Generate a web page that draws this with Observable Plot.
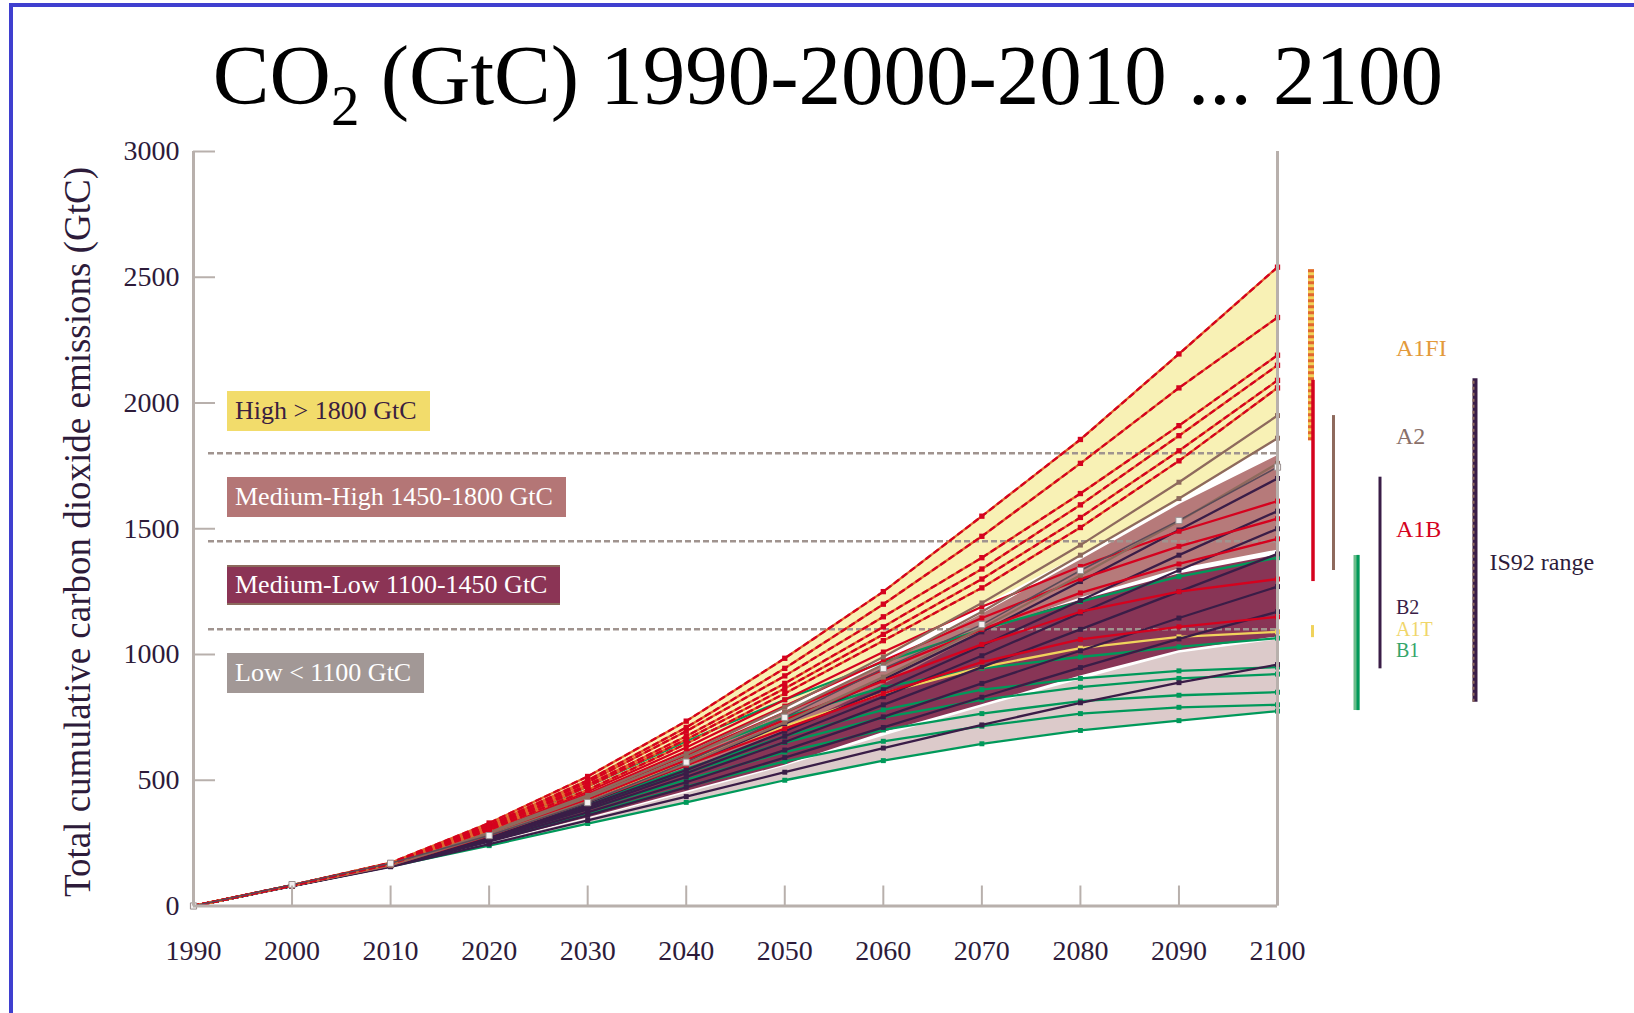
<!DOCTYPE html>
<html><head><meta charset="utf-8">
<script src="https://cdn.jsdelivr.net/npm/d3@7"></script>
<script src="https://cdn.jsdelivr.net/npm/@observablehq/plot@0.6"></script>
<style>
html,body{margin:0;padding:0;background:#fff;}
#page{position:relative;width:1634px;height:1013px;overflow:hidden;font-family:"Liberation Serif","Times New Roman",serif;background:#fff;}
#blueTop{position:absolute;left:9px;top:3px;width:1625px;height:4px;background:#3f3fcf;}
#blueLeft{position:absolute;left:9px;top:3px;width:4px;height:1010px;background:#3f3fcf;}
#title{position:absolute;left:0;top:33px;width:1656px;text-align:center;font-size:85px;line-height:85px;color:#000;white-space:nowrap;}
#title .sub{font-size:57px;vertical-align:-21px;}
#chart{position:absolute;left:0;top:135px;}
#ytitle{position:absolute;left:-322px;top:512px;width:800px;height:40px;line-height:40px;text-align:center;font-size:37px;color:#2d1b3a;transform:rotate(-90deg);transform-origin:400px 20px;white-space:nowrap;}
.legbox{position:absolute;height:40px;line-height:40px;font-size:26px;padding:0 13px 0 8px;white-space:nowrap;box-sizing:border-box;}
</style></head>
<body>
<div id="page">
  <div id="blueTop"></div><div id="blueLeft"></div>
  <div id="title">CO<span class="sub">2</span> (GtC) 1990-2000-2010 ... 2100</div>
  <div id="chart"></div>
  <div id="ytitle">Total cumulative carbon dioxide emissions (GtC)</div>
</div>
<script>
// ---------- data ----------
const years = [1990, 2000, 2010, 2020, 2030, 2040, 2050, 2060, 2070, 2080, 2090, 2100];
const yTicks = [0, 500, 1000, 1500, 2000, 2500, 3000];
const thresholds = [1100, 1450, 1800];

// scenario runs, cumulative GtC at each decade
const a1fiRuns = [
  [0, 83, 172, 330, 515, 735, 985, 1250, 1550, 1855, 2195, 2540],
  [0, 83, 170, 322, 500, 710, 945, 1200, 1470, 1760, 2060, 2340],
  [0, 83, 170, 318, 492, 695, 915, 1150, 1385, 1640, 1910, 2190],
  [0, 82, 168, 312, 482, 675, 885, 1110, 1340, 1595, 1870, 2150],
  [0, 82, 168, 308, 475, 662, 865, 1080, 1300, 1545, 1810, 2090],
  [0, 82, 166, 302, 462, 645, 845, 1055, 1265, 1505, 1770, 2060]
];
const a2Runs = [
  [0, 81, 164, 295, 440, 605, 790, 990, 1205, 1435, 1685, 1950],
  [0, 81, 163, 290, 432, 590, 770, 960, 1170, 1395, 1620, 1860],
  [0, 80, 162, 282, 415, 565, 730, 910, 1105, 1315, 1530, 1760]
];
const a1bRuns = [
  [0, 82, 166, 300, 455, 630, 820, 1010, 1190, 1350, 1490, 1610],
  [0, 82, 165, 296, 446, 615, 795, 975, 1145, 1300, 1430, 1540],
  [0, 81, 164, 292, 438, 600, 770, 940, 1100, 1245, 1360, 1460],
  [0, 81, 163, 285, 425, 580, 740, 895, 1040, 1170, 1250, 1300],
  [0, 81, 162, 280, 415, 560, 705, 845, 970, 1060, 1110, 1150]
];
const b2Runs = [
  [0, 80, 162, 280, 410, 560, 725, 900, 1090, 1290, 1495, 1700],
  [0, 80, 161, 276, 400, 540, 695, 860, 1035, 1215, 1395, 1570],
  [0, 80, 160, 272, 392, 528, 675, 832, 995, 1165, 1335, 1500],
  [0, 80, 160, 268, 384, 513, 652, 800, 950, 1100, 1250, 1400],
  [0, 80, 159, 262, 372, 492, 620, 752, 885, 1015, 1145, 1270],
  [0, 79, 158, 256, 360, 472, 590, 710, 830, 948, 1062, 1170],
  [0, 79, 156, 246, 340, 435, 532, 628, 720, 808, 888, 960]
];
const b1Runs = [
  [0, 82, 166, 300, 475, 655, 820, 970, 1100, 1210, 1310, 1385],
  [0, 82, 165, 290, 440, 600, 750, 870, 945, 990, 1030, 1065],
  [0, 81, 163, 280, 410, 545, 675, 780, 860, 905, 935, 950],
  [0, 81, 162, 275, 400, 530, 650, 750, 820, 870, 905, 922],
  [0, 80, 161, 268, 385, 502, 612, 700, 765, 815, 838, 850],
  [0, 80, 160, 260, 365, 475, 575, 655, 715, 765, 790, 800],
  [0, 80, 158, 240, 328, 412, 500, 578, 645, 698, 737, 775]
];
const a1tRuns = [
  [0, 81, 164, 288, 425, 572, 715, 845, 950, 1025, 1070, 1090]
];
const is92aRun = [0, 85, 170, 280, 411, 572, 750, 944, 1119, 1334, 1533, 1745];

// category bands (envelopes)
const highLo = [0, 81, 163, 290, 432, 600, 785, 990, 1190, 1395, 1610, 1855];
const highHi = [0, 83, 172, 330, 515, 735, 985, 1250, 1550, 1855, 2195, 2540];
const medHighLo = [0, 80, 160, 272, 395, 535, 695, 880, 1085, 1225, 1340, 1415];
const medHighHi = [0, 81, 163, 288, 428, 585, 762, 955, 1160, 1375, 1595, 1790];
const medLowLo = [0, 79, 157, 252, 350, 455, 560, 690, 800, 915, 1015, 1070];
const medLowHi = [0, 80, 161, 278, 405, 552, 712, 905, 1105, 1215, 1320, 1395];
const lowLo = [0, 80, 158, 240, 328, 412, 500, 578, 645, 698, 737, 775];
const lowHi = [0, 79, 157, 250, 345, 448, 555, 675, 790, 900, 1005, 1058];

// category legend
const categoryLabels = ["High > 1800 GtC", "Medium-High 1450-1800 GtC", "Medium-Low 1100-1450 GtC", "Low < 1100 GtC"];
const categoryLo = [1800, 1450, 1100, 750];
const categoryHi = [2130, 1800, 1450, 1100];

// 2100 ranges per scenario family
const rangeNames = ["A1FI", "A1B", "A1T", "A2", "B1", "B2", "IS92"];
const rangeLo = [1850, 1290, 1067, 1334, 777, 943, 810];
const rangeHi = [2530, 2090, 1115, 1950, 1394, 1705, 2096];

const familyLabels = ["A1FI", "A2", "A1B", "B2", "A1T", "B1", "IS92 range"];
const familyLabelValues = [2217, 1867, 1497, 1186, 1100, 1014, 1366];

// ---------- helpers ----------
function runRows(runs, fam) {
  return runs.flatMap((vals, r) => vals.map((v, i) => ({run: fam + r, year: years[i], value: v})));
}
function bandRows(lo, hi) {
  return years.map((y, i) => ({year: y, lo: lo[i], hi: hi[i]}));
}
const ranges = rangeNames.map((n, i) => ({name: n, lo: rangeLo[i], hi: rangeHi[i]}));
const labels = familyLabels.map((n, i) => ({name: n, v: familyLabelValues[i]}));

const C = {
  red: "#d5021e", orange: "#e1662e", yellow: "#f0d35c", brown: "#8e6a5d",
  dark: "#3a1d47", green: "#00995a", axis: "#b8b0ac", text: "#2d1b3a"
};

const rA1FI = runRows(a1fiRuns, "a1fi");
const rA2 = runRows(a2Runs, "a2");
const rA1B = runRows(a1bRuns, "a1b");
const rB2 = runRows(b2Runs, "b2");
const rB1 = runRows(b1Runs, "b1");
const rA1T = runRows(a1tRuns, "a1t");
const rIS = runRows([is92aRun], "is92");

const frameW = 1634 - 357 - 193;
const frameH = 878 - 16 - 107.5;

function lineMarks(rows, color, opts = {}) {
  return [
    Plot.line(rows, {x: "year", y: "value", z: "run", stroke: color, strokeWidth: 2.3, ...opts}),
    Plot.dot(rows, {x: "year", y: "value", symbol: "square", r: 2.8, fill: color, stroke: "none"})
  ];
}
function rangeBar(name, dx, stroke, width, extra = {}) {
  return Plot.ruleX(ranges.filter(d => d.name === name),
    {x: () => 2100, y1: "lo", y2: "hi", dx, stroke, strokeWidth: width, ...extra});
}
const labelColors = {"A1FI": "#e39a3a", "A2": "#8a706a", "A1B": "#d5021e", "B2": "#3a1d47", "A1T": "#f0d66a", "B1": "#34a56a", "IS92 range": "#2d1b3a"};
const labelSizes = {"B2": 20, "A1T": 20, "B1": 20};

const marks = [
  // bands
  Plot.areaY(bandRows(lowLo, lowHi), {x: "year", y1: "lo", y2: "hi", fill: "#dccaca"}),
  Plot.areaY(bandRows(medLowLo, medLowHi), {x: "year", y1: "lo", y2: "hi", fill: "#883556"}),
  Plot.areaY(bandRows(medHighLo, medHighHi), {x: "year", y1: "lo", y2: "hi", fill: "#b67a7a"}),
  Plot.areaY(bandRows(highLo, highHi), {x: "year", y1: "lo", y2: "hi", fill: "#f8f1b5"}),
  // thresholds
  Plot.ruleY(thresholds, {stroke: "#a0948f", strokeWidth: 2.5, strokeDasharray: "6,3", insetLeft: 15}),
  // lines
  ...lineMarks(rB1, C.green),
  ...lineMarks(rA1T, C.yellow),
  ...lineMarks(rB2, C.dark),
  ...lineMarks(rA1B, C.red),
  ...lineMarks(rA2, C.brown),
  Plot.line(rA1FI, {x: "year", y: "value", z: "run", stroke: C.orange, strokeWidth: 2.3}),
  Plot.line(rA1FI, {x: "year", y: "value", z: "run", stroke: C.red, strokeWidth: 2.3, strokeDasharray: "5,5"}),
  Plot.dot(rA1FI, {x: "year", y: "value", symbol: "square", r: 3, fill: C.red}),
  Plot.line(rIS, {x: "year", y: "value", stroke: "#5a4a58", strokeWidth: 1.5}),
  Plot.dot(rIS, {x: "year", y: "value", symbol: "square", r: 3.5, fill: "#f2f0f0", stroke: "#9a9090", strokeWidth: 1}),
  // frame and ticks
  Plot.ruleX(years, {stroke: C.axis, strokeWidth: 2, insetTop: frameH - 20}),
  Plot.ruleY(yTicks, {stroke: C.axis, strokeWidth: 2, insetRight: frameW - 22}),
  Plot.ruleX([1990, 2100], {stroke: C.axis, strokeWidth: 3}),
  Plot.ruleY([0], {stroke: C.axis, strokeWidth: 3}),
  Plot.axisX(years, {tickSize: 0, tickPadding: 34, fontSize: 28, fill: C.text, tickFormat: d => String(d), label: null}),
  Plot.axisY(yTicks, {tickSize: 0, tickPadding: 14, fontSize: 28, fill: C.text, tickFormat: d => String(d), label: null}),
  // 2100 ranges
  rangeBar("A1FI", 33.5, C.yellow, 6),
  rangeBar("A1FI", 33.5, C.orange, 6, {strokeDasharray: "3,3"}),
  rangeBar("A1B", 35.5, C.red, 3.5),
  rangeBar("A1T", 35, C.yellow, 3),
  rangeBar("A2", 56, C.brown, 3),
  rangeBar("B1", 79, "#6abd8a", 6),
  rangeBar("B1", 80.5, C.green, 3),
  rangeBar("B2", 102.5, C.dark, 3),
  rangeBar("IS92", 197.5, C.dark, 5),
  rangeBar("IS92", 196, C.brown, 2, {strokeDasharray: "3,3"}),
  // family labels
  ...labels.map(d => Plot.text([d], {
    x: () => 2100, y: "v", text: "name", dx: d.name === "IS92 range" ? 212 : 118.5,
    textAnchor: "start", fontSize: labelSizes[d.name] || 24, fill: labelColors[d.name]
  }))
];

const chart = Plot.plot({
  width: 1634, height: 878,
  marginLeft: 193, marginRight: 357, marginTop: 16, marginBottom: 107.5,
  style: {fontFamily: "'Liberation Serif','Times New Roman',serif", fontSize: "28px", background: "transparent", overflow: "visible"},
  x: {domain: [1990, 2100]},
  y: {domain: [0, 3000]},
  marks
});
document.getElementById("chart").appendChild(chart);

// category legend boxes placed through the chart's own scales
const yS = chart.scale("y"), xS = chart.scale("x");
const boxStyles = [
  {bg: "#f2dc6b", color: "#3a2040", border: "none"},
  {bg: "#b47676", color: "#ffffff", border: "none"},
  {bg: "#8b3455", color: "#ffffff", border: "2px solid #8b6a5c"},
  {bg: "#a29896", color: "#ffffff", border: "none"}
];
const page = document.getElementById("page");
categoryLabels.forEach((lab, i) => {
  const div = document.createElement("div");
  div.className = "legbox";
  div.textContent = lab;
  const cy = 135 + yS.apply((categoryLo[i] + categoryHi[i]) / 2);
  div.style.left = (xS.apply(1990) + 34) + "px";
  div.style.top = (cy - 20) + "px";
  div.style.background = boxStyles[i].bg;
  div.style.color = boxStyles[i].color;
  div.style.borderTop = boxStyles[i].border;
  div.style.borderBottom = boxStyles[i].border;
  if (boxStyles[i].border !== "none") div.style.lineHeight = "36px";
  page.appendChild(div);
});
</script>
</body></html>
